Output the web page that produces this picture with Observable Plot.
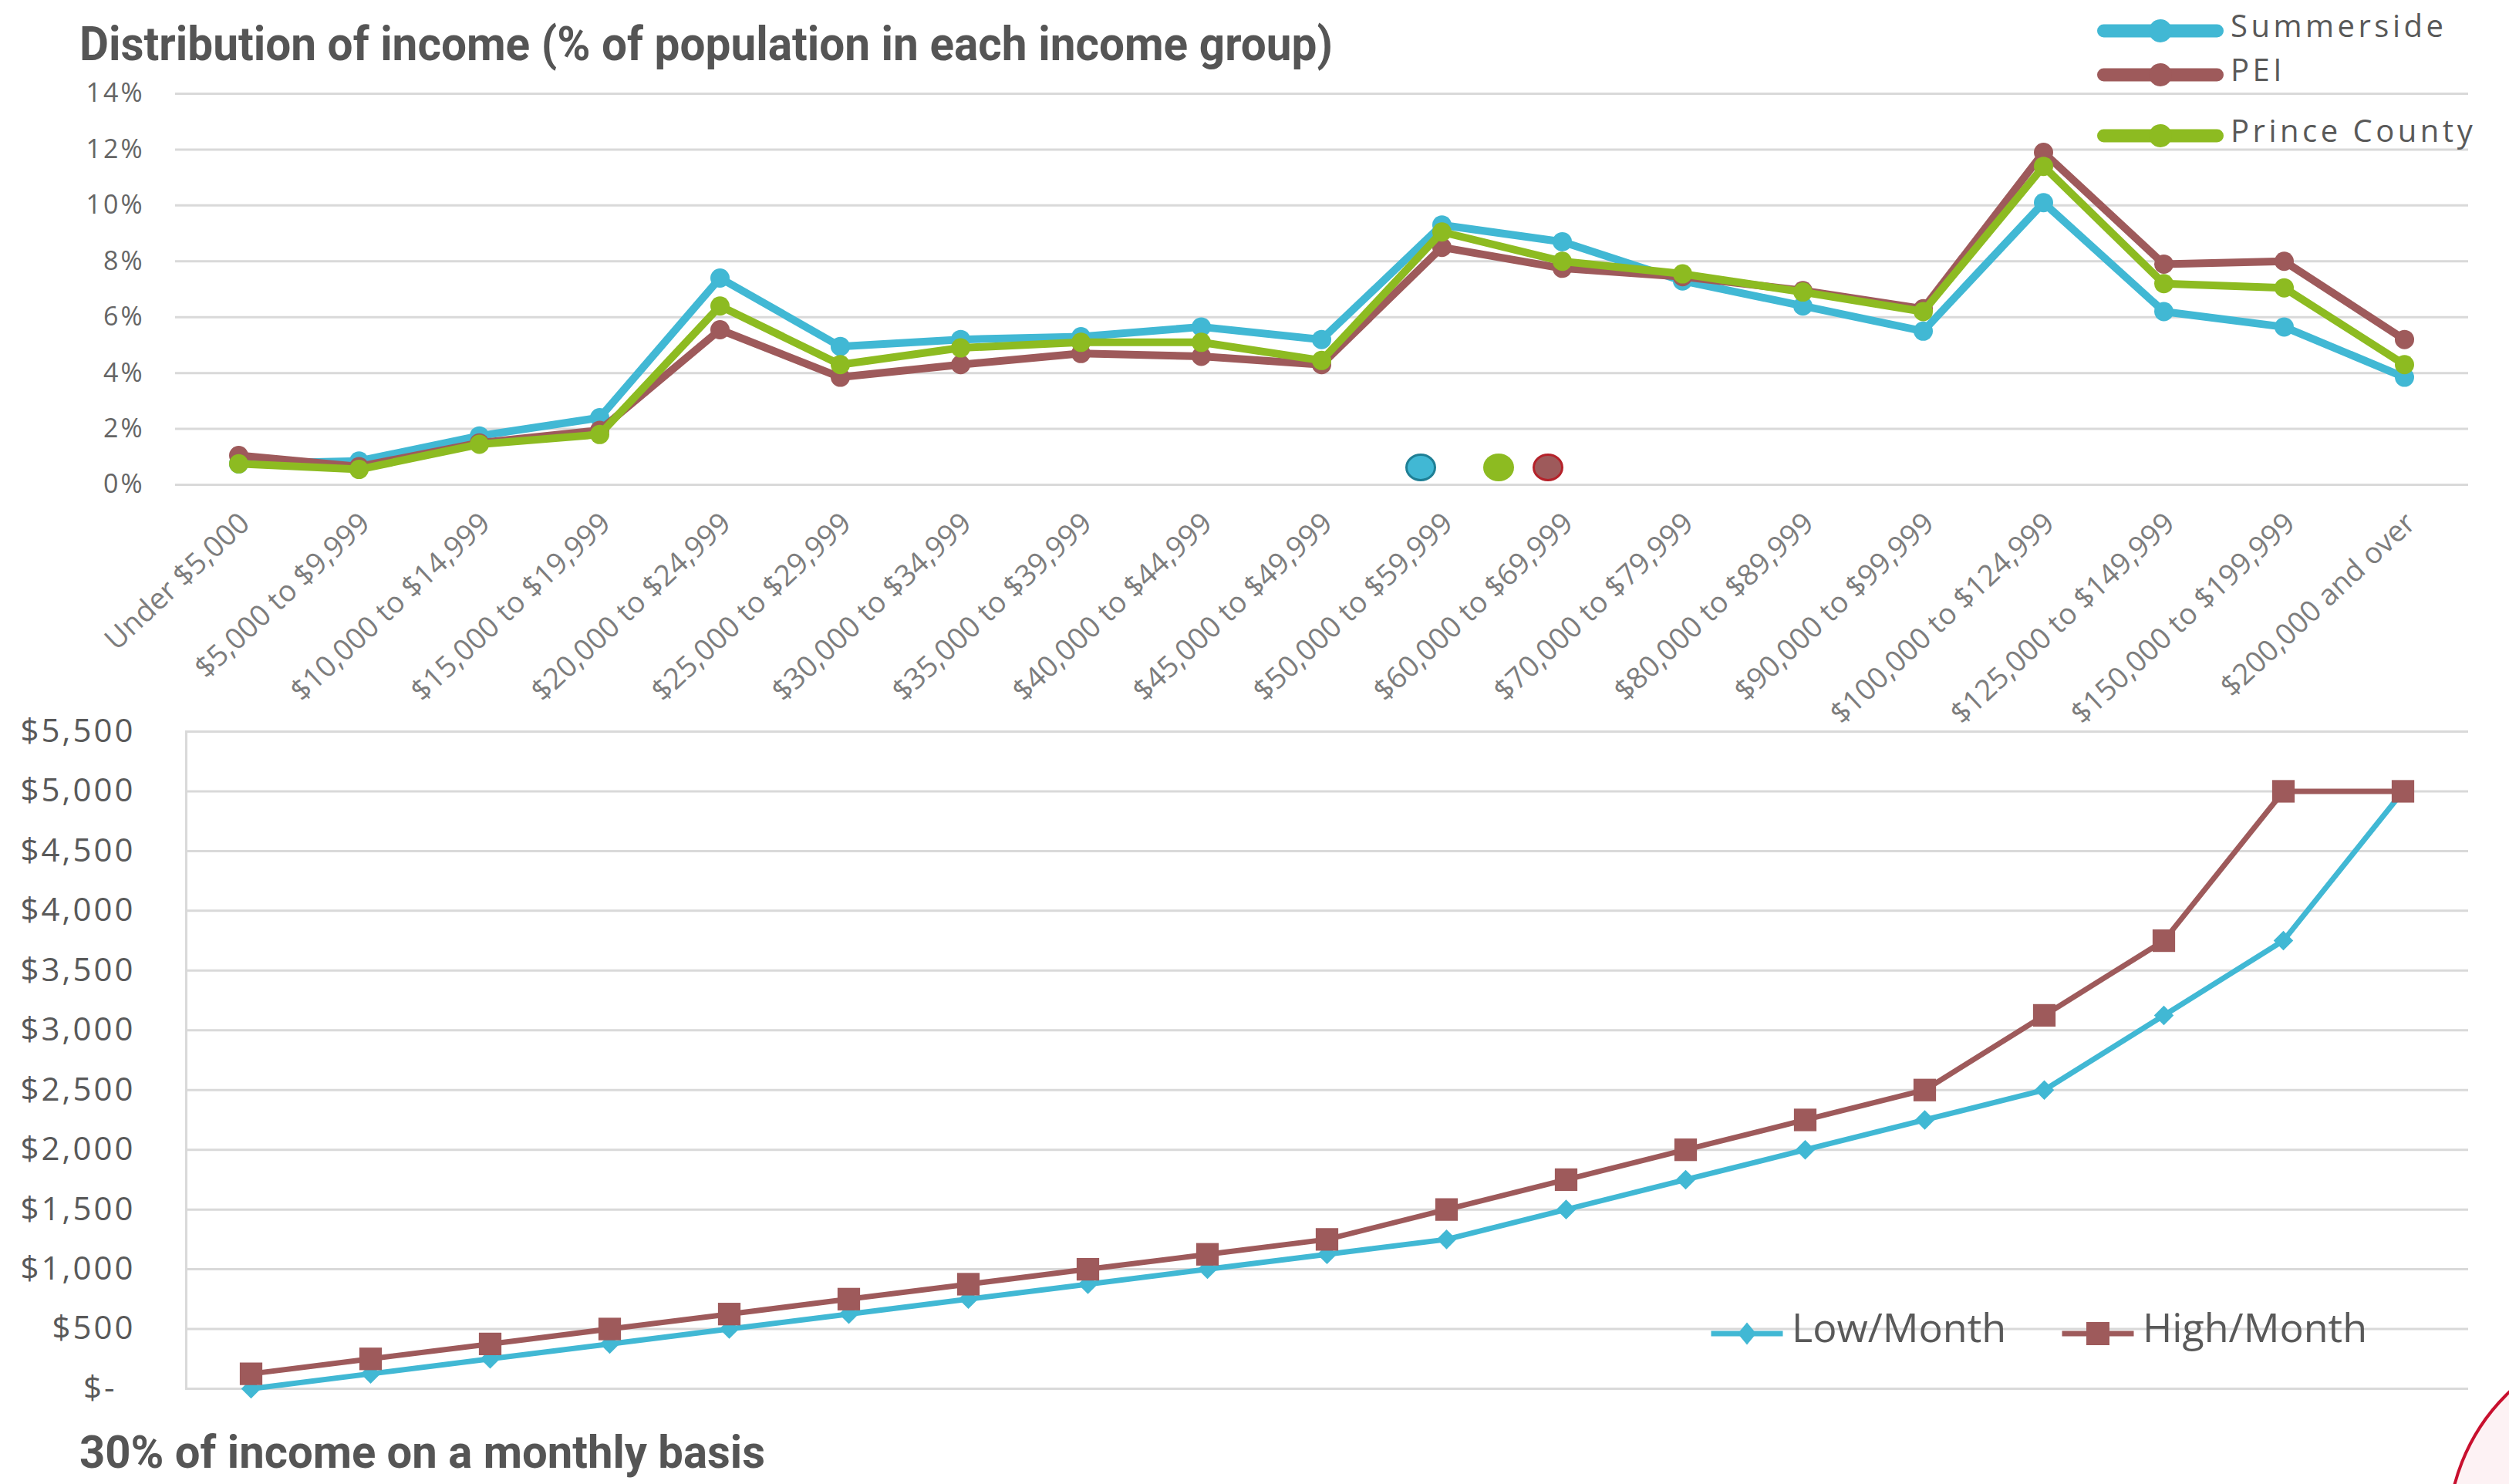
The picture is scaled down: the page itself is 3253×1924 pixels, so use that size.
<!DOCTYPE html>
<html>
<head>
<meta charset="utf-8">
<script src="https://cdn.jsdelivr.net/npm/d3@7"></script>
<script src="https://cdn.jsdelivr.net/npm/@observablehq/plot@0.6"></script>
<style>
  html, body { margin:0; padding:0; background:#fff; }
  #page { position:relative; width:3253px; height:1924px; overflow:hidden; background:#fff; }
  .plotwrap { position:absolute; left:0; }
  .plotwrap svg { overflow:visible; }
  .fit { position:absolute; white-space:nowrap; font-family:Roboto, "Open Sans", sans-serif; font-weight:700; color:#555; line-height:1; transform-origin:0 0; }
  .leg { position:absolute; white-space:nowrap; color:#595959; line-height:1; font-family:"Open Sans", sans-serif; }
  .sw { position:absolute; overflow:visible; }
  .blob { position:absolute; border-radius:50%; box-sizing:border-box; }
  .spaced g[aria-label="y-axis tick label"] text { letter-spacing:3px; }
  .arc { position:absolute; border-radius:50%; border:4px solid #c8102e; background:#fdf2f4; box-sizing:border-box; }
</style>
</head>
<body>
<div id="page"></div>
<script>
// ---------- data ----------
const categories = [
  "Under $5,000", "$5,000 to $9,999", "$10,000 to $14,999", "$15,000 to $19,999",
  "$20,000 to $24,999", "$25,000 to $29,999", "$30,000 to $34,999", "$35,000 to $39,999",
  "$40,000 to $44,999", "$45,000 to $49,999", "$50,000 to $59,999", "$60,000 to $69,999",
  "$70,000 to $79,999", "$80,000 to $89,999", "$90,000 to $99,999", "$100,000 to $124,999",
  "$125,000 to $149,999", "$150,000 to $199,999", "$200,000 and over"
];
const seriesNames = ["Summerside", "PEI", "Prince County"];
const seriesColors = ["#41b8d4", "#9e5a5b", "#8dbb21"];
const summerside   = [0.75, 0.85, 1.75, 2.4, 7.4, 4.95, 5.2, 5.3, 5.65, 5.2, 9.3, 8.7, 7.3, 6.4, 5.5, 10.1, 6.2, 5.65, 3.85];
const pei          = [1.05, 0.65, 1.5, 1.95, 5.55, 3.85, 4.3, 4.7, 4.6, 4.3, 8.5, 7.75, 7.45, 6.95, 6.3, 11.9, 7.9, 8.0, 5.2];
const princeCounty = [0.75, 0.55, 1.45, 1.8, 6.4, 4.3, 4.9, 5.1, 5.1, 4.45, 9.05, 8.0, 7.55, 6.9, 6.2, 11.4, 7.2, 7.05, 4.3];
const pctTicks = [0, 2, 4, 6, 8, 10, 12, 14];

const monthNames = ["Low/Month", "High/Month"];
const monthColors = ["#41b8d4", "#9e5a5b"];
const lowMonth  = [0, 125, 250, 375, 500, 625, 750, 875, 1000, 1125, 1250, 1500, 1750, 2000, 2250, 2500, 3125, 3750, 5000];
const highMonth = [125, 250, 375, 500, 625, 750, 875, 1000, 1125, 1250, 1500, 1750, 2000, 2250, 2500, 3125, 3750, 5000, 5000];
const dollarTicks = [0, 500, 1000, 1500, 2000, 2500, 3000, 3500, 4000, 4500, 5000, 5500];

const titleText = "Distribution of income (% of population in each income group)";
const captionText = "30% of income on a monthly basis";

// ---------- tables ----------
const distValues = [summerside, pei, princeCounty];
const distRows = seriesNames.flatMap((s, i) => categories.map((c, j) => ({series: s, category: c, value: distValues[i][j]})));
const monthValues = [lowMonth, highMonth];
const monthRows = monthNames.flatMap((s, i) => categories.map((c, j) => ({series: s, category: c, value: monthValues[i][j]})));

const page = document.getElementById("page");
const gridStyle = {stroke: "#d9d9d9", strokeOpacity: 1, strokeWidth: 3};

// ---------- top chart ----------
const topPlot = Plot.plot({
  width: 3253, height: 840,
  marginTop: 21, marginBottom: 312, marginLeft: 227, marginRight: 53,
  style: {background: "transparent", fontFamily: "'Open Sans', sans-serif", overflow: "visible"},
  x: {type: "point", domain: categories, range: [305, 3120], padding: 0},
  y: {domain: [0, 14]},
  color: {domain: seriesNames, range: seriesColors},
  marks: [
    Plot.gridY(pctTicks, gridStyle),
    Plot.axisY(pctTicks, {tickSize: 0, tickPadding: 40, tickFormat: d => d + "%", fontSize: 34, color: "#666", label: null}),
    Plot.axisX({tickSize: 0, tickPadding: 44, tickRotate: -43, fontSize: 38, color: "#7d7d7d", textAnchor: "end", lineAnchor: "middle", dx: 8, label: null}),
    ...seriesNames.flatMap(s => [
      Plot.line(distRows.filter(d => d.series === s), {x: "category", y: "value", stroke: "series", strokeWidth: 10, strokeLinejoin: "round"}),
      Plot.dot(distRows.filter(d => d.series === s), {x: "category", y: "value", fill: "series", r: 12.5, stroke: "none"})
    ])
  ]
});
const topWrap = document.createElement("div");
topWrap.className = "plotwrap spaced";
topWrap.style.top = "100px";
topWrap.appendChild(topPlot);
page.appendChild(topWrap);

// ---------- bottom chart ----------
const fmtDollar = d => d === 0 ? "$-\u2002" : "$" + d3.format(",")(d);
const bottomPlot = Plot.plot({
  width: 3253, height: 940,
  marginTop: 48, marginBottom: 40, marginLeft: 241, marginRight: 53,
  style: {background: "transparent", fontFamily: "'Open Sans', sans-serif", overflow: "visible"},
  x: {type: "point", domain: categories, range: [318, 3121], padding: 0, axis: null},
  y: {domain: [0, 5500]},
  color: {domain: monthNames, range: monthColors},
  marks: [
    Plot.gridY(dollarTicks, gridStyle),
    Plot.frame({anchor: "left", stroke: "#d9d9d9", strokeWidth: 3}),
    Plot.axisY(dollarTicks, {tickSize: 0, tickPadding: 66, tickFormat: fmtDollar, fontSize: 42, color: "#595959", label: null}),
    Plot.line(monthRows.filter(d => d.series === "Low/Month"), {x: "category", y: "value", stroke: "series", strokeWidth: 7}),
    Plot.dot(monthRows.filter(d => d.series === "Low/Month"), {x: "category", y: "value", fill: "series", symbol: "diamond2", r: 11.5, stroke: "none"}),
    Plot.line(monthRows.filter(d => d.series === "High/Month"), {x: "category", y: "value", stroke: "series", strokeWidth: 7}),
    Plot.dot(monthRows.filter(d => d.series === "High/Month"), {x: "category", y: "value", fill: "series", symbol: "square", r: 16.5, stroke: "none"})
  ]
});
const botWrap = document.createElement("div");
botWrap.className = "plotwrap spaced";
botWrap.style.top = "900px";
botWrap.appendChild(bottomPlot);
page.appendChild(botWrap);

// ---------- title & caption (condensed-fit text) ----------
function fitText(text, left, top, size, width) {
  const el = document.createElement("div");
  el.className = "fit";
  el.textContent = text;
  el.style.left = left + "px";
  el.style.top = top + "px";
  el.style.fontSize = size + "px";
  page.appendChild(el);
  const w = el.getBoundingClientRect().width;
  el.style.transform = `scaleX(${width / w})`;
  return el;
}
fitText(titleText, 103, 26, 62, 1625);
fitText(captionText, 103, 1853, 59, 889);

// ---------- legends ----------
function legendEntry({x, y, color, label, marker, lineW, lineLen, size, fontSize, spacing, textGap}) {
  const ns = "http://www.w3.org/2000/svg";
  const svg = document.createElementNS(ns, "svg");
  svg.setAttribute("class", "sw");
  svg.setAttribute("width", lineLen);
  svg.setAttribute("height", 60);
  svg.style.left = x + "px";
  svg.style.top = (y - 30) + "px";
  const ln = document.createElementNS(ns, "line");
  ln.setAttribute("x1", lineW / 2); ln.setAttribute("x2", lineLen - lineW / 2);
  ln.setAttribute("y1", 30); ln.setAttribute("y2", 30);
  ln.setAttribute("stroke", color); ln.setAttribute("stroke-width", lineW);
  ln.setAttribute("stroke-linecap", marker === "circle" ? "round" : "butt");
  svg.appendChild(ln);
  const cx = lineLen / 2;
  let m;
  if (marker === "circle") {
    m = document.createElementNS(ns, "circle");
    m.setAttribute("cx", cx); m.setAttribute("cy", 30); m.setAttribute("r", size);
  } else if (marker === "square") {
    m = document.createElementNS(ns, "rect");
    m.setAttribute("x", cx - size); m.setAttribute("y", 30 - size);
    m.setAttribute("width", 2 * size); m.setAttribute("height", 2 * size);
  } else {
    m = document.createElementNS(ns, "path");
    m.setAttribute("d", `M${cx},${30 - size * 1.2}L${cx + size},30L${cx},${30 + size * 1.2}L${cx - size},30Z`);
  }
  m.setAttribute("fill", color);
  svg.appendChild(m);
  page.appendChild(svg);
  const t = document.createElement("div");
  t.className = "leg";
  t.textContent = label;
  t.style.fontSize = fontSize + "px";
  t.style.letterSpacing = spacing + "px";
  t.style.left = (x + lineLen + textGap) + "px";
  t.style.top = (y - fontSize * 0.68) + "px";
  page.appendChild(t);
}
const topLegendY = [40, 97, 176];
seriesNames.forEach((s, i) => legendEntry({
  x: 2719, y: topLegendY[i], color: seriesColors[i], label: s, marker: "circle",
  lineW: 17, lineLen: 164, size: 15, fontSize: 40, spacing: 4.5, textGap: 9
}));
const botLegendX = [2215, 2670];
monthNames.forEach((s, i) => legendEntry({
  x: botLegendX[i], y: 1729, color: monthColors[i], label: s, marker: i === 0 ? "diamond" : "square",
  lineW: 7, lineLen: 100, size: i === 0 ? 12 : 15, fontSize: 52, spacing: 0, textGap: 8
}));

// ---------- stray marker blobs & corner decoration ----------
[[1842, "#41b8d4", "3px solid #1f7f95"], [1943, "#8dbb21", "none"], [2007, "#9e5a5b", "3px solid #b5222a"]].forEach(([cx, fill, border]) => {
  const b = document.createElement("div");
  b.className = "blob";
  b.style.left = (cx - 20) + "px"; b.style.top = (606 - 18) + "px";
  b.style.width = "40px"; b.style.height = "36px";
  b.style.background = fill; b.style.border = border;
  page.appendChild(b);
});
const arc = document.createElement("div");
arc.className = "arc";
arc.style.left = (3430 - 258) + "px"; arc.style.top = (1990 - 258) + "px";
arc.style.width = "516px"; arc.style.height = "516px";
page.appendChild(arc);
</script>
</body>
</html>
